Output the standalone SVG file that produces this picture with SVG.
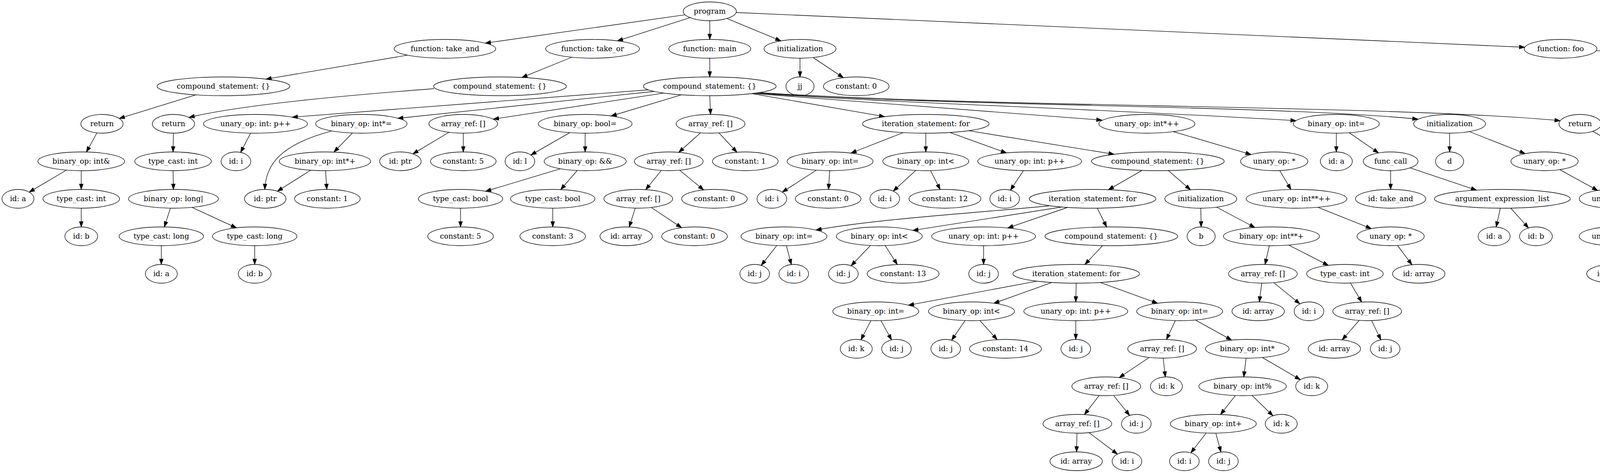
<svg xmlns="http://www.w3.org/2000/svg" width="7970" height="1211" viewBox="0 0 7970 1211">
<style>
.nd ellipse{fill:#fff;stroke:#000;stroke-width:1.33}
.nd text{font-family:"DejaVu Serif",serif;font-size:18.67px;text-anchor:middle;fill:#000}
#edges path{fill:none;stroke:#000;stroke-width:1.33;marker-end:url(#ah)}
</style>
<defs>
<marker id="ah" viewBox="0 0 14 10" markerWidth="14" markerHeight="10" refX="13.6" refY="4.67" orient="auto" markerUnits="userSpaceOnUse" overflow="visible"><path d="M0,0L13.3,4.67L0,9.33z" fill="#000" stroke="#000" stroke-width="1.33"/></marker>
</defs>
<rect width="7970" height="1211" fill="#fff"/>
<g id="nodes">
<g id="n0" class="nd" transform="translate(1817 29)"><ellipse rx="68" ry="24"/><text y="6">program</text></g>
<g id="n1" class="nd" transform="translate(1139 125)"><ellipse rx="130" ry="24"/><text y="6">function: take_and</text></g>
<g id="n2" class="nd" transform="translate(1517 125)"><ellipse rx="120" ry="24"/><text y="6">function: take_or</text></g>
<g id="n3" class="nd" transform="translate(1817 125)"><ellipse rx="105" ry="24"/><text y="6">function: main</text></g>
<g id="n4" class="nd" transform="translate(2048 125)"><ellipse rx="92" ry="24"/><text y="6">initialization</text></g>
<g id="n5" class="nd" transform="translate(3995 125)"><ellipse rx="93" ry="24"/><text y="6">function: foo</text></g>
<g id="n6" class="nd" transform="translate(572 221)"><ellipse rx="170" ry="24"/><text y="6">compound_statement: {}</text></g>
<g id="n7" class="nd" transform="translate(1280 221)"><ellipse rx="170" ry="24"/><text y="6">compound_statement: {}</text></g>
<g id="n8" class="nd" transform="translate(1817 221)"><ellipse rx="170" ry="24"/><text y="6">compound_statement: {}</text></g>
<g id="n9" class="nd" transform="translate(2048 221)"><ellipse rx="36" ry="24"/><text y="6">jj</text></g>
<g id="n10" class="nd" transform="translate(2192 221)"><ellipse rx="84" ry="24"/><text y="6">constant: 0</text></g>
<g id="n11" class="nd" transform="translate(5846 221)"><ellipse rx="170" ry="24"/><text y="6">compound_statement: {}</text></g>
<g id="n12" class="nd" transform="translate(261 317)"><ellipse rx="54" ry="24"/><text y="6">return</text></g>
<g id="n13" class="nd" transform="translate(444 317)"><ellipse rx="54" ry="24"/><text y="6">return</text></g>
<g id="n14" class="nd" transform="translate(654 317)"><ellipse rx="133" ry="24"/><text y="6">unary_op: int: p++</text></g>
<g id="n15" class="nd" transform="translate(925 317)"><ellipse rx="117" ry="24"/><text y="6">binary_op: int*=</text></g>
<g id="n16" class="nd" transform="translate(1186 317)"><ellipse rx="88" ry="24"/><text y="6">array_ref: []</text></g>
<g id="n17" class="nd" transform="translate(1498 317)"><ellipse rx="120" ry="24"/><text y="6">binary_op: bool=</text></g>
<g id="n18" class="nd" transform="translate(1819 317)"><ellipse rx="88" ry="24"/><text y="6">array_ref: []</text></g>
<g id="n19" class="nd" transform="translate(2370 317)"><ellipse rx="162" ry="24"/><text y="6">iteration_statement: for</text></g>
<g id="n20" class="nd" transform="translate(2936 317)"><ellipse rx="123" ry="24"/><text y="6">unary_op: int*++</text></g>
<g id="n21" class="nd" transform="translate(3421 317)"><ellipse rx="110" ry="24"/><text y="6">binary_op: int=</text></g>
<g id="n22" class="nd" transform="translate(3711 317)"><ellipse rx="92" ry="24"/><text y="6">initialization</text></g>
<g id="n23" class="nd" transform="translate(4045 317)"><ellipse rx="54" ry="24"/><text y="6">return</text></g>
<g id="n24" class="nd" transform="translate(4829 317)"><ellipse rx="162" ry="24"/><text y="6">iteration_statement: for</text></g>
<g id="n25" class="nd" transform="translate(5675 317)"><ellipse rx="160" ry="24"/><text y="6">iteration_statement: do</text></g>
<g id="n26" class="nd" transform="translate(6020 317)"><ellipse rx="162" ry="24"/><text y="6">iteration_statement: for</text></g>
<g id="n27" class="nd" transform="translate(6745 317)"><ellipse rx="162" ry="24"/><text y="6">iteration_statement: for</text></g>
<g id="n28" class="nd" transform="translate(7483 317)"><ellipse rx="178" ry="24"/><text y="6">iteration_statement: while</text></g>
<g id="n29" class="nd" transform="translate(208 413)"><ellipse rx="111" ry="24"/><text y="6">binary_op: int&amp;</text></g>
<g id="n30" class="nd" transform="translate(443 413)"><ellipse rx="98" ry="24"/><text y="6">type_cast: int</text></g>
<g id="n31" class="nd" transform="translate(604 413)"><ellipse rx="38" ry="24"/><text y="6">id: i</text></g>
<g id="n32" class="nd" transform="translate(832 413)"><ellipse rx="117" ry="24"/><text y="6">binary_op: int*+</text></g>
<g id="n33" class="nd" transform="translate(1025 413)"><ellipse rx="53" ry="24"/><text y="6">id: ptr</text></g>
<g id="n34" class="nd" transform="translate(1186 413)"><ellipse rx="84" ry="24"/><text y="6">constant: 5</text></g>
<g id="n35" class="nd" transform="translate(1331 413)"><ellipse rx="38" ry="24"/><text y="6">id: l</text></g>
<g id="n36" class="nd" transform="translate(1498 413)"><ellipse rx="105" ry="24"/><text y="6">binary_op: &amp;&amp;</text></g>
<g id="n37" class="nd" transform="translate(1712 413)"><ellipse rx="88" ry="24"/><text y="6">array_ref: []</text></g>
<g id="n38" class="nd" transform="translate(1908 413)"><ellipse rx="84" ry="24"/><text y="6">constant: 1</text></g>
<g id="n39" class="nd" transform="translate(2125 413)"><ellipse rx="110" ry="24"/><text y="6">binary_op: int=</text></g>
<g id="n40" class="nd" transform="translate(2370 413)"><ellipse rx="110" ry="24"/><text y="6">binary_op: int&lt;</text></g>
<g id="n41" class="nd" transform="translate(2636 413)"><ellipse rx="133" ry="24"/><text y="6">unary_op: int: p++</text></g>
<g id="n42" class="nd" transform="translate(2964 413)"><ellipse rx="170" ry="24"/><text y="6">compound_statement: {}</text></g>
<g id="n43" class="nd" transform="translate(3262 413)"><ellipse rx="86" ry="24"/><text y="6">unary_op: *</text></g>
<g id="n44" class="nd" transform="translate(3421 413)"><ellipse rx="41" ry="24"/><text y="6">id: a</text></g>
<g id="n45" class="nd" transform="translate(3560 413)"><ellipse rx="70" ry="24"/><text y="6">func_call</text></g>
<g id="n46" class="nd" transform="translate(3711 413)"><ellipse rx="36" ry="24"/><text y="6">d</text></g>
<g id="n47" class="nd" transform="translate(3954 413)"><ellipse rx="86" ry="24"/><text y="6">unary_op: *</text></g>
<g id="n48" class="nd" transform="translate(4210 413)"><ellipse rx="98" ry="24"/><text y="6">type_cast: int</text></g>
<g id="n49" class="nd" transform="translate(4393 413)"><ellipse rx="36" ry="24"/><text y="6">;</text></g>
<g id="n50" class="nd" transform="translate(4562 413)"><ellipse rx="110" ry="24"/><text y="6">binary_op: int&lt;</text></g>
<g id="n51" class="nd" transform="translate(4829 413)"><ellipse rx="133" ry="24"/><text y="6">unary_op: int: p++</text></g>
<g id="n52" class="nd" transform="translate(5155 413)"><ellipse rx="170" ry="24"/><text y="6">compound_statement: {}</text></g>
<g id="n53" class="nd" transform="translate(5522 413)"><ellipse rx="170" ry="24"/><text y="6">compound_statement: {}</text></g>
<g id="n54" class="nd" transform="translate(5757 413)"><ellipse rx="42" ry="24"/><text y="6">id: jj</text></g>
<g id="n55" class="nd" transform="translate(5859 413)"><ellipse rx="36" ry="24"/><text y="6">;</text></g>
<g id="n56" class="nd" transform="translate(6020 413)"><ellipse rx="102" ry="24"/><text y="6">constant: true</text></g>
<g id="n57" class="nd" transform="translate(6316 413)"><ellipse rx="170" ry="24"/><text y="6">compound_statement: {}</text></g>
<g id="n58" class="nd" transform="translate(6621 413)"><ellipse rx="110" ry="24"/><text y="6">binary_op: int=</text></g>
<g id="n59" class="nd" transform="translate(6866 413)"><ellipse rx="112" ry="24"/><text y="6">binary_op: int%</text></g>
<g id="n60" class="nd" transform="translate(7172 413)"><ellipse rx="170" ry="24"/><text y="6">compound_statement: {}</text></g>
<g id="n61" class="nd" transform="translate(7483 413)"><ellipse rx="116" ry="24"/><text y="6">binary_op: int!=</text></g>
<g id="n62" class="nd" transform="translate(7793 413)"><ellipse rx="170" ry="24"/><text y="6">compound_statement: {}</text></g>
<g id="n63" class="nd" transform="translate(46 509)"><ellipse rx="41" ry="24"/><text y="6">id: a</text></g>
<g id="n64" class="nd" transform="translate(208 509)"><ellipse rx="98" ry="24"/><text y="6">type_cast: int</text></g>
<g id="n65" class="nd" transform="translate(444 509)"><ellipse rx="115" ry="24"/><text y="6">binary_op: long|</text></g>
<g id="n66" class="nd" transform="translate(679 509)"><ellipse rx="53" ry="24"/><text y="6">id: ptr</text></g>
<g id="n67" class="nd" transform="translate(838 509)"><ellipse rx="84" ry="24"/><text y="6">constant: 1</text></g>
<g id="n68" class="nd" transform="translate(1179 509)"><ellipse rx="108" ry="24"/><text y="6">type_cast: bool</text></g>
<g id="n69" class="nd" transform="translate(1415 509)"><ellipse rx="108" ry="24"/><text y="6">type_cast: bool</text></g>
<g id="n70" class="nd" transform="translate(1634 509)"><ellipse rx="88" ry="24"/><text y="6">array_ref: []</text></g>
<g id="n71" class="nd" transform="translate(1829 509)"><ellipse rx="84" ry="24"/><text y="6">constant: 0</text></g>
<g id="n72" class="nd" transform="translate(1976 509)"><ellipse rx="38" ry="24"/><text y="6">id: i</text></g>
<g id="n73" class="nd" transform="translate(2120 509)"><ellipse rx="84" ry="24"/><text y="6">constant: 0</text></g>
<g id="n74" class="nd" transform="translate(2265 509)"><ellipse rx="38" ry="24"/><text y="6">id: i</text></g>
<g id="n75" class="nd" transform="translate(2419 509)"><ellipse rx="92" ry="24"/><text y="6">constant: 12</text></g>
<g id="n76" class="nd" transform="translate(2572 509)"><ellipse rx="38" ry="24"/><text y="6">id: i</text></g>
<g id="n77" class="nd" transform="translate(2797 509)"><ellipse rx="162" ry="24"/><text y="6">iteration_statement: for</text></g>
<g id="n78" class="nd" transform="translate(3074 509)"><ellipse rx="92" ry="24"/><text y="6">initialization</text></g>
<g id="n79" class="nd" transform="translate(3319 509)"><ellipse rx="129" ry="24"/><text y="6">unary_op: int**++</text></g>
<g id="n80" class="nd" transform="translate(3560 509)"><ellipse rx="90" ry="24"/><text y="6">id: take_and</text></g>
<g id="n81" class="nd" transform="translate(3846 509)"><ellipse rx="174" ry="24"/><text y="6">argument_expression_list</text></g>
<g id="n82" class="nd" transform="translate(4129 509)"><ellipse rx="86" ry="24"/><text y="6">unary_op: *</text></g>
<g id="n83" class="nd" transform="translate(4334 509)"><ellipse rx="95" ry="24"/><text y="6">constant: 0.1</text></g>
<g id="n84" class="nd" transform="translate(4495 509)"><ellipse rx="42" ry="24"/><text y="6">id: jj</text></g>
<g id="n85" class="nd" transform="translate(4651 509)"><ellipse rx="92" ry="24"/><text y="6">constant: 50</text></g>
<g id="n86" class="nd" transform="translate(4807 509)"><ellipse rx="42" ry="24"/><text y="6">id: jj</text></g>
<g id="n87" class="nd" transform="translate(5004 509)"><ellipse rx="133" ry="24"/><text y="6">unary_op: int: p++</text></g>
<g id="n88" class="nd" transform="translate(5196 509)"><ellipse rx="36" ry="24"/><text y="6">if</text></g>
<g id="n89" class="nd" transform="translate(5394 509)"><ellipse rx="36" ry="24"/><text y="6">if</text></g>
<g id="n90" class="nd" transform="translate(5522 509)"><ellipse rx="68" ry="24"/><text y="6">continue</text></g>
<g id="n91" class="nd" transform="translate(5705 509)"><ellipse rx="92" ry="24"/><text y="6">initialization</text></g>
<g id="n92" class="nd" transform="translate(6316 509)"><ellipse rx="50" ry="24"/><text y="6">break</text></g>
<g id="n93" class="nd" transform="translate(6468 509)"><ellipse rx="42" ry="24"/><text y="6">id: jj</text></g>
<g id="n94" class="nd" transform="translate(6624 509)"><ellipse rx="92" ry="24"/><text y="6">constant: 45</text></g>
<g id="n95" class="nd" transform="translate(6784 509)"><ellipse rx="42" ry="24"/><text y="6">id: jj</text></g>
<g id="n96" class="nd" transform="translate(6930 509)"><ellipse rx="84" ry="24"/><text y="6">constant: 3</text></g>
<g id="n97" class="nd" transform="translate(7131 509)"><ellipse rx="68" ry="24"/><text y="6">continue</text></g>
<g id="n98" class="nd" transform="translate(7272 509)"><ellipse rx="50" ry="24"/><text y="6">break</text></g>
<g id="n99" class="nd" transform="translate(7399 509)"><ellipse rx="41" ry="24"/><text y="6">id: c</text></g>
<g id="n100" class="nd" transform="translate(7580 509)"><ellipse rx="117" ry="24"/><text y="6">unary_op: int++</text></g>
<g id="n101" class="nd" transform="translate(7793 509)"><ellipse rx="68" ry="24"/><text y="6">continue</text></g>
<g id="n102" class="nd" transform="translate(208 605)"><ellipse rx="42" ry="24"/><text y="6">id: b</text></g>
<g id="n103" class="nd" transform="translate(413 605)"><ellipse rx="108" ry="24"/><text y="6">type_cast: long</text></g>
<g id="n104" class="nd" transform="translate(652 605)"><ellipse rx="108" ry="24"/><text y="6">type_cast: long</text></g>
<g id="n105" class="nd" transform="translate(1179 605)"><ellipse rx="84" ry="24"/><text y="6">constant: 5</text></g>
<g id="n106" class="nd" transform="translate(1415 605)"><ellipse rx="84" ry="24"/><text y="6">constant: 3</text></g>
<g id="n107" class="nd" transform="translate(1603 605)"><ellipse rx="67" ry="24"/><text y="6">id: array</text></g>
<g id="n108" class="nd" transform="translate(1778 605)"><ellipse rx="84" ry="24"/><text y="6">constant: 0</text></g>
<g id="n109" class="nd" transform="translate(2007 605)"><ellipse rx="110" ry="24"/><text y="6">binary_op: int=</text></g>
<g id="n110" class="nd" transform="translate(2251 605)"><ellipse rx="110" ry="24"/><text y="6">binary_op: int&lt;</text></g>
<g id="n111" class="nd" transform="translate(2518 605)"><ellipse rx="133" ry="24"/><text y="6">unary_op: int: p++</text></g>
<g id="n112" class="nd" transform="translate(2845 605)"><ellipse rx="170" ry="24"/><text y="6">compound_statement: {}</text></g>
<g id="n113" class="nd" transform="translate(3075 605)"><ellipse rx="36" ry="24"/><text y="6">b</text></g>
<g id="n114" class="nd" transform="translate(3255 605)"><ellipse rx="123" ry="24"/><text y="6">binary_op: int**+</text></g>
<g id="n115" class="nd" transform="translate(3560 605)"><ellipse rx="86" ry="24"/><text y="6">unary_op: *</text></g>
<g id="n116" class="nd" transform="translate(3825 605)"><ellipse rx="41" ry="24"/><text y="6">id: a</text></g>
<g id="n117" class="nd" transform="translate(3932 605)"><ellipse rx="42" ry="24"/><text y="6">id: b</text></g>
<g id="n118" class="nd" transform="translate(4129 605)"><ellipse rx="86" ry="24"/><text y="6">unary_op: *</text></g>
<g id="n119" class="nd" transform="translate(4819 605)"><ellipse rx="42" ry="24"/><text y="6">id: jj</text></g>
<g id="n120" class="nd" transform="translate(4995 605)"><ellipse rx="110" ry="24"/><text y="6">binary_op: int&lt;</text></g>
<g id="n121" class="nd" transform="translate(5196 605)"><ellipse rx="68" ry="24"/><text y="6">continue</text></g>
<g id="n122" class="nd" transform="translate(5396 605)"><ellipse rx="110" ry="24"/><text y="6">binary_op: int&gt;</text></g>
<g id="n123" class="nd" transform="translate(5582 605)"><ellipse rx="50" ry="24"/><text y="6">break</text></g>
<g id="n124" class="nd" transform="translate(5701 605)"><ellipse rx="36" ry="24"/><text y="6">c</text></g>
<g id="n125" class="nd" transform="translate(5892 605)"><ellipse rx="133" ry="24"/><text y="6">unary_op: int: p++</text></g>
<g id="n126" class="nd" transform="translate(7580 605)"><ellipse rx="42" ry="24"/><text y="6">id: jj</text></g>
<g id="n127" class="nd" transform="translate(413 701)"><ellipse rx="41" ry="24"/><text y="6">id: a</text></g>
<g id="n128" class="nd" transform="translate(652 701)"><ellipse rx="42" ry="24"/><text y="6">id: b</text></g>
<g id="n129" class="nd" transform="translate(1932 701)"><ellipse rx="38" ry="24"/><text y="6">id: j</text></g>
<g id="n130" class="nd" transform="translate(2032 701)"><ellipse rx="38" ry="24"/><text y="6">id: i</text></g>
<g id="n131" class="nd" transform="translate(2159 701)"><ellipse rx="38" ry="24"/><text y="6">id: j</text></g>
<g id="n132" class="nd" transform="translate(2312 701)"><ellipse rx="92" ry="24"/><text y="6">constant: 13</text></g>
<g id="n133" class="nd" transform="translate(2518 701)"><ellipse rx="38" ry="24"/><text y="6">id: j</text></g>
<g id="n134" class="nd" transform="translate(2755 701)"><ellipse rx="162" ry="24"/><text y="6">iteration_statement: for</text></g>
<g id="n135" class="nd" transform="translate(3233 701)"><ellipse rx="88" ry="24"/><text y="6">array_ref: []</text></g>
<g id="n136" class="nd" transform="translate(3443 701)"><ellipse rx="98" ry="24"/><text y="6">type_cast: int</text></g>
<g id="n137" class="nd" transform="translate(3632 701)"><ellipse rx="67" ry="24"/><text y="6">id: array</text></g>
<g id="n138" class="nd" transform="translate(4129 701)"><ellipse rx="67" ry="24"/><text y="6">id: array</text></g>
<g id="n139" class="nd" transform="translate(4917 701)"><ellipse rx="42" ry="24"/><text y="6">id: jj</text></g>
<g id="n140" class="nd" transform="translate(5072 701)"><ellipse rx="92" ry="24"/><text y="6">constant: 15</text></g>
<g id="n141" class="nd" transform="translate(5321 701)"><ellipse rx="42" ry="24"/><text y="6">id: jj</text></g>
<g id="n142" class="nd" transform="translate(5476 701)"><ellipse rx="92" ry="24"/><text y="6">constant: 50</text></g>
<g id="n143" class="nd" transform="translate(5892 701)"><ellipse rx="42" ry="24"/><text y="6">id: jj</text></g>
<g id="n144" class="nd" transform="translate(2242 797)"><ellipse rx="110" ry="24"/><text y="6">binary_op: int=</text></g>
<g id="n145" class="nd" transform="translate(2487 797)"><ellipse rx="110" ry="24"/><text y="6">binary_op: int&lt;</text></g>
<g id="n146" class="nd" transform="translate(2754 797)"><ellipse rx="133" ry="24"/><text y="6">unary_op: int: p++</text></g>
<g id="n147" class="nd" transform="translate(3020 797)"><ellipse rx="110" ry="24"/><text y="6">binary_op: int=</text></g>
<g id="n148" class="nd" transform="translate(3221 797)"><ellipse rx="67" ry="24"/><text y="6">id: array</text></g>
<g id="n149" class="nd" transform="translate(3351 797)"><ellipse rx="38" ry="24"/><text y="6">id: i</text></g>
<g id="n150" class="nd" transform="translate(3500 797)"><ellipse rx="88" ry="24"/><text y="6">array_ref: []</text></g>
<g id="n151" class="nd" transform="translate(2192 893)"><ellipse rx="41" ry="24"/><text y="6">id: k</text></g>
<g id="n152" class="nd" transform="translate(2295 893)"><ellipse rx="38" ry="24"/><text y="6">id: j</text></g>
<g id="n153" class="nd" transform="translate(2421 893)"><ellipse rx="38" ry="24"/><text y="6">id: j</text></g>
<g id="n154" class="nd" transform="translate(2574 893)"><ellipse rx="92" ry="24"/><text y="6">constant: 14</text></g>
<g id="n155" class="nd" transform="translate(2754 893)"><ellipse rx="38" ry="24"/><text y="6">id: j</text></g>
<g id="n156" class="nd" transform="translate(2975 893)"><ellipse rx="88" ry="24"/><text y="6">array_ref: []</text></g>
<g id="n157" class="nd" transform="translate(3193 893)"><ellipse rx="107" ry="24"/><text y="6">binary_op: int*</text></g>
<g id="n158" class="nd" transform="translate(3416 893)"><ellipse rx="67" ry="24"/><text y="6">id: array</text></g>
<g id="n159" class="nd" transform="translate(3546 893)"><ellipse rx="38" ry="24"/><text y="6">id: j</text></g>
<g id="n160" class="nd" transform="translate(2832 989)"><ellipse rx="88" ry="24"/><text y="6">array_ref: []</text></g>
<g id="n161" class="nd" transform="translate(2986 989)"><ellipse rx="41" ry="24"/><text y="6">id: k</text></g>
<g id="n162" class="nd" transform="translate(3181 989)"><ellipse rx="112" ry="24"/><text y="6">binary_op: int%</text></g>
<g id="n163" class="nd" transform="translate(3358 989)"><ellipse rx="41" ry="24"/><text y="6">id: k</text></g>
<g id="n164" class="nd" transform="translate(2758 1085)"><ellipse rx="88" ry="24"/><text y="6">array_ref: []</text></g>
<g id="n165" class="nd" transform="translate(2909 1085)"><ellipse rx="38" ry="24"/><text y="6">id: j</text></g>
<g id="n166" class="nd" transform="translate(3106 1085)"><ellipse rx="110" ry="24"/><text y="6">binary_op: int+</text></g>
<g id="n167" class="nd" transform="translate(3280 1085)"><ellipse rx="41" ry="24"/><text y="6">id: k</text></g>
<g id="n168" class="nd" transform="translate(2755 1181)"><ellipse rx="67" ry="24"/><text y="6">id: array</text></g>
<g id="n169" class="nd" transform="translate(2885 1181)"><ellipse rx="38" ry="24"/><text y="6">id: i</text></g>
<g id="n170" class="nd" transform="translate(3032 1181)"><ellipse rx="38" ry="24"/><text y="6">id: i</text></g>
<g id="n171" class="nd" transform="translate(3132 1181)"><ellipse rx="38" ry="24"/><text y="6">id: j</text></g>
</g>
<g id="edges">
<path d="M1753.9,37.9L1242.2,110.4"/>
<path d="M1766.6,45.1L1580.6,104.6"/>
<path d="M1817,53L1817,101"/>
<path d="M1861,47.3L1999.1,104.7"/>
<path d="M1884.5,32L3903.3,121"/>
<path d="M1043.2,141.2L680.9,202.6"/>
<path d="M1463.9,146.5L1336,198.3"/>
<path d="M1817,149L1817,197"/>
<path d="M2048,149L2048,197"/>
<path d="M2081.5,147.4L2158.9,198.9"/>
<path d="M4086.2,129.7L5686.4,212.7"/>
<path d="M501.3,242.8L305.3,303.3"/>
<path d="M1111,227C880,245 620,268 484,300.5"/>
<path d="M1660,230L748,300"/>
<path d="M1675,234L1018,303"/>
<path d="M1699,238.3L1263,305"/>
<path d="M1744.8,242.7L1564.4,297"/>
<path d="M1817,245L1819,293"/>
<path d="M1924.3,239.6L2264.8,298.7"/>
<path d="M1927,239.3L2821,307.5"/>
<path d="M1935,238.3C2300,265 2750,275 3318,309"/>
<path d="M1940,237.6C2400,272 3250,268 3630,305"/>
<path d="M1945,236.8C2500,275 3550,268 3994,309"/>
<path d="M5704.7,234.3L4965.6,304.1"/>
<path d="M5804.5,244.3L5716.3,293.8"/>
<path d="M5888.1,244.3L5978,293.8"/>
<path d="M5981.6,235.5L6613.6,303"/>
<path d="M6003,230.2L7319.8,307.4"/>
<path d="M248.1,340.3L221.2,389.2"/>
<path d="M444,341L443,389"/>
<path d="M641.6,340.9L615.9,390.2"/>
<path d="M902.2,340.5L854.8,389.5"/>
<path d="M849,335.3C720,370 680,420 678,485"/>
<path d="M1149.4,338.8L1057.1,393.9"/>
<path d="M1186,341L1186,389"/>
<path d="M1458.6,339.7L1359.1,396.8"/>
<path d="M1498,341L1498,389"/>
<path d="M1793.4,340L1737.6,390"/>
<path d="M1840.6,340.3L1886.5,389.8"/>
<path d="M2312.7,339.4L2178.5,392"/>
<path d="M2370,341L2370,389"/>
<path d="M2431.5,339.2L2576.5,391.5"/>
<path d="M2479.5,334.7L2852.1,394.9"/>
<path d="M3003.9,337L3202.8,395.6"/>
<path d="M3421,341L3421,389"/>
<path d="M3454.1,339.9L3528.9,391.5"/>
<path d="M3711,341L3711,389"/>
<path d="M3761.7,337L3904.4,393.4"/>
<path d="M4077.8,336.1L4172,390.9"/>
<path d="M4710,333.5C4620,345 4480,368 4421,398.5"/>
<path d="M4767.3,339.2L4619.1,392.5"/>
<path d="M4829,341L4829,389"/>
<path d="M4901.8,338.4L5081.5,391.4"/>
<path d="M5637.8,340.3L5559.3,389.6"/>
<path d="M5695.3,340.8L5738.6,391.4"/>
<path d="M5980.9,340.3L5885.8,397"/>
<path d="M6020,341L6020,389"/>
<path d="M6087.3,338.8L6248.2,391"/>
<path d="M6714.6,340.6L6650.8,389.9"/>
<path d="M6774.7,340.6L6836.8,389.8"/>
<path d="M6834.2,337L7081.6,392.7"/>
<path d="M7483,341L7483,389"/>
<path d="M7554.1,339L7722.5,391.2"/>
<path d="M170,435.5L74.8,491.9"/>
<path d="M208,437L208,485"/>
<path d="M443,437L444,485"/>
<path d="M795.6,435.8L710,489.5"/>
<path d="M833.5,437L836.5,485"/>
<path d="M1434.5,432.1L1243.2,489.7"/>
<path d="M1477.6,436.5L1435.4,485.4"/>
<path d="M1693,436.4L1653,485.6"/>
<path d="M1739.8,435.8L1801.4,486.3"/>
<path d="M2089.7,435.7L2002.6,491.9"/>
<path d="M2124,437L2121,485"/>
<path d="M2344.5,436.3L2286.6,489.3"/>
<path d="M2382.2,436.9L2406.9,485.2"/>
<path d="M2620.1,436.8L2586.7,486.9"/>
<path d="M2923.5,436.3L2837.4,485.8"/>
<path d="M2991.1,436.7L3047.7,486"/>
<path d="M3276.1,436.7L3304.8,485.1"/>
<path d="M3560,437L3560,485"/>
<path d="M3610,429.8L3779.9,486.8"/>
<path d="M3993,434.4L4090,487.6"/>
<path d="M4239.6,435.9L4304.5,486.2"/>
<path d="M4545.4,436.7L4510.6,486.7"/>
<path d="M4583.8,436.5L4629.4,485.7"/>
<path d="M4823.5,437L4812.4,485.1"/>
<path d="M5118.2,436.4L5040.3,485.9"/>
<path d="M5165.2,437L5186.1,485.9"/>
<path d="M5211.4,435.6L5363.2,496.6"/>
<path d="M5522,437L5522,485"/>
<path d="M5566.2,436.2L5664,487.5"/>
<path d="M6316,437L6316,485"/>
<path d="M6584.9,435.7L6496.3,491.3"/>
<path d="M6621.7,437L6623.3,485"/>
<path d="M6845.8,436.6L6802.4,487.4"/>
<path d="M6881.8,436.8L6914.3,485.4"/>
<path d="M7161.8,437L7141.1,485.3"/>
<path d="M7196.7,436.7L7249.6,487.5"/>
<path d="M7462.3,436.6L7417.7,487.6"/>
<path d="M7506.7,436.5L7556.3,485.5"/>
<path d="M7793,437L7793,485"/>
<path d="M208,533L208,581"/>
<path d="M436.3,532.9L420.7,581.1"/>
<path d="M491.4,530.9L605.2,583.4"/>
<path d="M1179,533L1179,581"/>
<path d="M1415,533L1415,581"/>
<path d="M1626.3,532.9L1610.7,581.2"/>
<path d="M1667.3,531.2L1744.9,582.9"/>
<path d="M2686,527C2500,545 2250,560 2089,588.7"/>
<path d="M2718,530L2336.7,589.9"/>
<path d="M2733,531L2579.8,583.7"/>
<path d="M2809,532.9L2833,581.1"/>
<path d="M3074,533L3075,581"/>
<path d="M3114.6,530.5L3212.5,582.5"/>
<path d="M3373.6,530.7L3510.6,585.3"/>
<path d="M3840.8,533L3830.2,581.2"/>
<path d="M3867.3,532.8L3912.9,583.6"/>
<path d="M4129,533L4129,581"/>
<path d="M4960.3,531.7L4850.1,588.9"/>
<path d="M5166.7,523L5040.7,583.2"/>
<path d="M5196,533L5196,581"/>
<path d="M5394.5,533L5395.5,581"/>
<path d="M5422.6,523.6L5547.7,587.5"/>
<path d="M5704,533L5702,581"/>
<path d="M5746.7,530.4L5847.9,582.4"/>
<path d="M7580,533L7580,581"/>
<path d="M413,629L413,677"/>
<path d="M652,629L652,677"/>
<path d="M1988.5,628.7L1948.8,679.5"/>
<path d="M2013.2,629L2025.8,677.3"/>
<path d="M2228.5,628.5L2178.7,680.5"/>
<path d="M2266.1,628.8L2297,677.3"/>
<path d="M2518,629L2518,677"/>
<path d="M2822.7,628.8L2777.3,677.2"/>
<path d="M3249.5,629L3238.5,677"/>
<path d="M3298.9,627.4L3400.6,679.4"/>
<path d="M3577.6,628.5L3614.6,677.8"/>
<path d="M4129,629L4129,677"/>
<path d="M4975.8,628.6L4934.7,679.2"/>
<path d="M5014,628.6L5053.2,677.5"/>
<path d="M5377.5,628.7L5338.1,679.1"/>
<path d="M5415.7,628.6L5456.5,677.5"/>
<path d="M5892,629L5892,677"/>
<path d="M2654.5,719.8L2325.5,781.4"/>
<path d="M2693.1,723.2L2544.2,776.5"/>
<path d="M2755,725L2754,773"/>
<path d="M2816.3,723.2L2963.3,776.4"/>
<path d="M3230,725L3224,773"/>
<path d="M3261,723.8L3327.7,778"/>
<path d="M3457.1,724.7L3485.9,773.3"/>
<path d="M2229.6,820.8L2204,870"/>
<path d="M2255.2,820.8L2282.5,870.3"/>
<path d="M2470.7,820.7L2436.1,871"/>
<path d="M2508.3,820.5L2552.8,869.6"/>
<path d="M2754,821L2754,869"/>
<path d="M3008.8,820.9L2986.2,869.2"/>
<path d="M3060.3,819.3L3152.9,870.7"/>
<path d="M3479.6,820.3L3436,870.1"/>
<path d="M3511.4,820.8L3535,870"/>
<path d="M2941.9,915.2L2865.1,966.8"/>
<path d="M2977.7,917L2983.3,965"/>
<path d="M3190,917L3184,965"/>
<path d="M3231.5,915.4L3328.9,972.1"/>
<path d="M2813.9,1012.5L2776.1,1061.5"/>
<path d="M2850.8,1012.4L2891.8,1063.6"/>
<path d="M3162.5,1012.7L3124.5,1061.3"/>
<path d="M3205.2,1012.4L3258.8,1064.5"/>
<path d="M2757,1109L2756,1157"/>
<path d="M2787.9,1107.6L2860.6,1162.6"/>
<path d="M3087.8,1108.7L3048.6,1159.4"/>
<path d="M3112.5,1109L3125.6,1157.3"/>
</g>
</svg>
